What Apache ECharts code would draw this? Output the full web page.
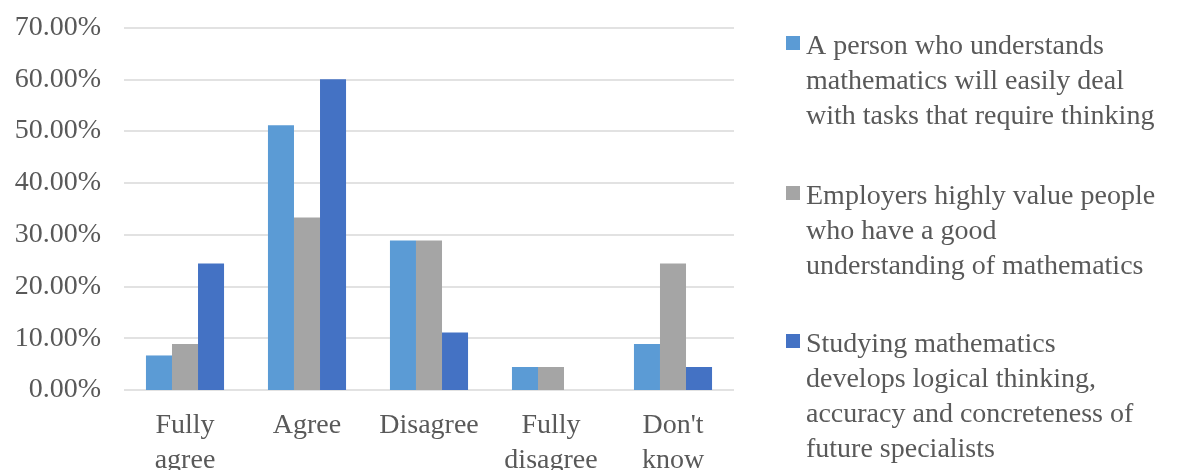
<!DOCTYPE html>
<html style="height: 100%">
<head>
    <meta charset="utf-8">
    <script type="text/javascript" src="https://cdn.jsdelivr.net/npm/echarts@6/dist/echarts.min.js"></script>
</head>
<body style="height: 100%; margin: 0; background: #fff">
<div id="container" style="width: 1178px; height: 470px"></div>
<script type="text/javascript">
    // categories on the x axis
    var categories = ['Fully\nagree', 'Agree', 'Disagree', 'Fully\ndisagree', "Don't\nknow"];
    // series names (full text) and how they are wrapped in the legend
    var names = [
        'A person who understands mathematics will easily deal with tasks that require thinking',
        'Employers highly value people who have a good understanding of mathematics',
        'Studying mathematics develops logical thinking, accuracy and concreteness of future specialists'
    ];
    var legendLines = [
        'A person who understands\nmathematics will easily deal\nwith tasks that require thinking',
        'Employers highly value people\nwho have a good\nunderstanding of mathematics',
        'Studying mathematics\ndevelops logical thinking,\naccuracy and concreteness of\nfuture specialists'
    ];
    // values in percent
    var personValues = [6.67, 51.11, 28.89, 4.44, 8.89];
    var employerValues = [8.89, 33.33, 28.89, 4.44, 24.44];
    var studyValues = [24.44, 60.00, 11.11, 0, 4.44];

    var colors = ['#5B9BD5', '#A5A5A5', '#4472C4'];
    var font = '"Liberation Serif", "Times New Roman", serif';
    var textColor = '#595959';
    var fontSize = 28;
    var lineH = 35;

    // square icon on the first text line, rest of the path box stays empty
    function topIcon(h) {
        return 'path://M0,7h14v14h-14z M0,0h0.01v0.01h-0.01z M13.99,' + (h - 0.01) + 'h0.01v0.01h-0.01z';
    }

    function makeLegend(i, top) {
        var n = legendLines[i].split('\n').length;
        var h = n * lineH;
        return {
            data: [{name: names[i], icon: topIcon(h)}],
            left: 786,
            top: top,
            orient: 'vertical',
            itemWidth: 14,
            itemHeight: h,
            padding: 0,
            selectedMode: false,
            formatter: function () { return legendLines[i]; },
            textStyle: {
                fontFamily: font,
                fontSize: fontSize,
                color: textColor,
                lineHeight: lineH,
                padding: [0, 0, 0, 1]
            }
        };
    }

    var dom = document.getElementById('container');
    var myChart = echarts.init(dom);
    var option = {
        animation: false,
        color: colors,
        grid: {left: 124, right: 444, top: 27.5, bottom: 80, outerBoundsMode: 'none', containLabel: false},
        legend: [makeLegend(0, 29), makeLegend(1, 179), makeLegend(2, 327)],
        xAxis: {
            type: 'category',
            data: categories,
            axisLine: {show: false},
            axisTick: {show: false},
            axisLabel: {
                margin: 18,
                fontFamily: font,
                fontSize: fontSize,
                color: textColor,
                lineHeight: lineH,
                interval: 0
            }
        },
        yAxis: {
            type: 'value',
            min: 0,
            max: 70,
            interval: 10,
            axisLine: {show: false},
            axisTick: {show: false},
            splitLine: {lineStyle: {color: '#D9D9D9', width: 1.5}},
            axisLabel: {
                margin: 23,
                fontFamily: font,
                fontSize: fontSize,
                color: textColor,
                formatter: function (v) { return v.toFixed(2) + '%'; }
            }
        },
        series: [
            {type: 'bar', name: names[0], data: personValues, barGap: '0%', barCategoryGap: '36%'},
            {type: 'bar', name: names[1], data: employerValues, barGap: '0%', barCategoryGap: '36%'},
            {type: 'bar', name: names[2], data: studyValues, barGap: '0%', barCategoryGap: '36%'}
        ]
    };
    myChart.setOption(option);
</script>
</body>
</html>
